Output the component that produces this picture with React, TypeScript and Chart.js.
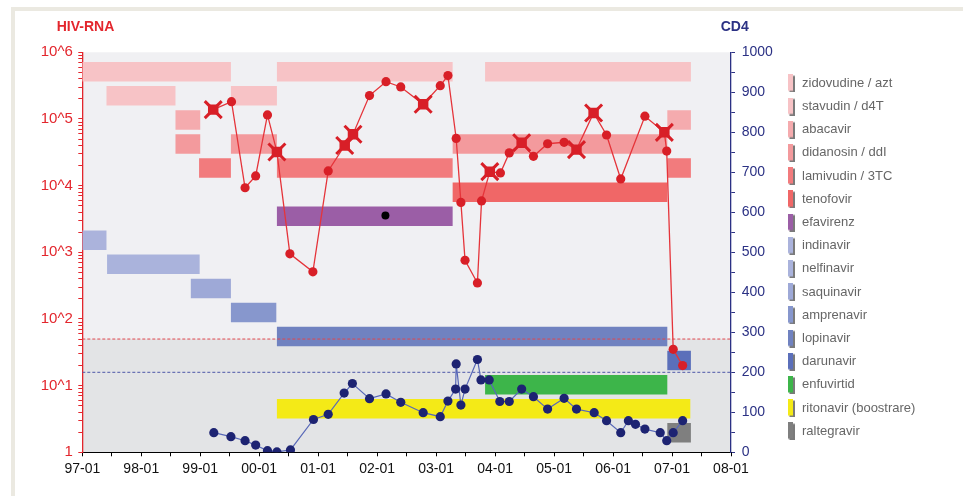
import React, { useEffect, useRef } from 'react';
import { Chart, registerables } from 'chart.js';

Chart.register(...registerables);

// ---------- data ----------
const rnaDates = [1999.22, 1999.53, 1999.76, 1999.94, 2000.14, 2000.30, 2000.52, 2000.91, 2001.17, 2001.45, 2001.59, 2001.87, 2002.15, 2002.40, 2002.78, 2003.07, 2003.20, 2003.34, 2003.42, 2003.49, 2003.70, 2003.77, 2003.91, 2004.09, 2004.24, 2004.45, 2004.65, 2004.89, 2005.17, 2005.38, 2005.67, 2005.89, 2006.13, 2006.54, 2006.87, 2006.91, 2007.02, 2007.18];
const rnaValues = [138000, 182000, 9300, 14000, 115000, 32000, 950, 510, 16600, 40000, 59000, 224000, 363000, 302000, 166000, 316000, 447000, 51000, 5600, 760, 347, 5900, 16200, 15500, 31000, 44000, 27500, 42500, 44700, 34700, 123000, 57500, 12600, 110000, 63000, 33000, 35, 20];
const rnaMarkers = ['x', 'o', 'o', 'o', 'o', 'x', 'o', 'o', 'o', 'x', 'x', 'o', 'o', 'o', 'x', 'o', 'o', 'o', 'o', 'o', 'o', 'o', 'x', 'o', 'o', 'x', 'o', 'o', 'o', 'x', 'x', 'o', 'o', 'o', 'x', 'o', 'o', 'o'];

const cd4Dates = [1999.23, 1999.52, 1999.76, 1999.94, 2000.14, 2000.30, 2000.53, 2000.92, 2001.17, 2001.44, 2001.58, 2001.87, 2002.15, 2002.40, 2002.78, 2003.07, 2003.20, 2003.33, 2003.34, 2003.42, 2003.49, 2003.70, 2003.76, 2003.90, 2004.08, 2004.24, 2004.45, 2004.65, 2004.89, 2005.17, 2005.38, 2005.68, 2005.89, 2006.13, 2006.26, 2006.38, 2006.54, 2006.80, 2006.91, 2007.02, 2007.18];
const cd4Values = [49, 39, 29, 18, 4, 1, 6, 82, 95, 148, 172, 134, 146, 125, 99, 89, 128, 158, 221, 118, 158, 232, 181, 181, 127, 127, 158, 139, 108, 135, 108, 99, 79, 49, 79, 70, 58, 49, 29, 49, 79];

const extraDates = [2002.14];
const extraValues = [3550];

const drugNames = ['zidovudine / azt', 'stavudin / d4T', 'abacavir', 'didanosin / ddI', 'lamivudin / 3TC', 'tenofovir', 'efavirenz', 'indinavir', 'nelfinavir', 'saquinavir', 'amprenavir', 'lopinavir', 'darunavir', 'enfuvirtid', 'ritonavir (boostrare)', 'raltegravir'];
const drugColors = ['#f7c3c6', '#f7c3c6', '#f5abae', '#f39a9d', '#f27b7d', '#f06767', '#9b5ea6', '#abb3dc', '#aab3dc', '#9ea9d7', '#8797cd', '#7082c0', '#5b6fba', '#3db54a', '#f4ea17', '#7f7f7f'];
const drugPeriods: number[][][] = [
  [[1997.0, 1999.52], [2000.30, 2003.28], [2003.83, 2007.32]],
  [[1997.41, 1998.58], [1999.52, 2000.30]],
  [[1998.58, 1999.0], [2006.92, 2007.32]],
  [[1998.58, 1999.0], [1999.52, 2000.30], [2003.28, 2006.92]],
  [[1998.98, 1999.52], [2000.30, 2003.28], [2006.92, 2007.32]],
  [[2003.28, 2006.92]],
  [[2000.30, 2003.28]],
  [[1997.0, 1997.41]],
  [[1997.42, 1998.99]],
  [[1998.84, 1999.52]],
  [[1999.52, 2000.29]],
  [[2000.30, 2006.92]],
  [[2006.92, 2007.32]],
  [[2003.83, 2006.92]],
  [[2000.30, 2007.31]],
  [[2006.92, 2007.32]],
];

const rnaTickValues = [1, 10, 100, 1000, 10000, 100000, 1000000];
const rnaTickLabels = ['1', '10^1', '10^2', '10^3', '10^4', '10^5', '10^6'];
const rnaLimit = 50;
const cd4Limit = 200;

// ---------- helpers ----------
const RED = '#e3262d';
const NAVY = '#2b3184';
const FONT = "'Liberation Sans', Arial, sans-serif";
const MARK_RED = '#d81f27';

function makeIcon(color: string) {
  const c = document.createElement('canvas');
  c.width = 7;
  c.height = 18;
  const g = c.getContext('2d')!;
  g.fillStyle = '#7a7a7a';
  g.fillRect(1.5, 1.5, 5.5, 16.5);
  g.fillStyle = color;
  g.fillRect(0, 0, 5, 16.5);
  return c;
}

const bgPlugin = {
  id: 'bgPlugin',
  beforeDraw(chart: any) {
    const { ctx, chartArea } = chart;
    const ys = chart.scales.yRna;
    const yl = ys.getPixelForValue(rnaLimit);
    ctx.save();
    ctx.fillStyle = '#f0f0f3';
    ctx.fillRect(chartArea.left, chartArea.top, chartArea.right - chartArea.left, chartArea.bottom - chartArea.top);
    ctx.fillStyle = '#e3e4e6';
    ctx.fillRect(chartArea.left, yl, chartArea.right - chartArea.left, chartArea.bottom - yl);
    ctx.restore();
  },
  afterDraw(chart: any) {
    const { ctx, chartArea } = chart;
    ctx.save();
    ctx.font = `bold 14px ${FONT}`;
    ctx.textBaseline = 'middle';
    ctx.textAlign = 'left';
    ctx.fillStyle = RED;
    ctx.fillText('HIV-RNA', chartArea.left - 25.6, 27.5);
    ctx.fillStyle = NAVY;
    ctx.fillText('CD4', chartArea.right - 10.3, 27.5);
    ctx.restore();
  },
  afterLayout(chart: any) {
    const lg = chart.legend;
    if (lg) {
      const w = lg.width;
      lg.left = 777.3;
      lg.right = 777.3 + w;
    }
  },
};

export default function App() {
  const ref = useRef<HTMLCanvasElement | null>(null);

  useEffect(() => {
    if (!ref.current) return;
    const icons = drugColors.map(makeIcon);

    const barSets = drugPeriods.map((periods, i) => {
      const data: any[] = [];
      periods.forEach((p, k) => {
        if (k > 0) data.push({ x: (periods[k - 1][1] + p[0]) / 2, y: null });
        data.push({ x: p[0], y: i });
        data.push({ x: p[1], y: i });
      });
      return {
        label: drugNames[i],
        data,
        xAxisID: 'x',
        yAxisID: 'yRows',
        borderColor: drugColors[i],
        backgroundColor: drugColors[i],
        borderWidth: 19.5,
        borderCapStyle: 'butt' as const,
        pointRadius: 0,
        pointHoverRadius: 0,
        spanGaps: false,
        order: 5,
      };
    });

    const limitSets = [
      {
        label: 'rnaLimit',
        data: [{ x: 1997, y: rnaLimit }, { x: 2008, y: rnaLimit }],
        yAxisID: 'yRna',
        borderColor: '#e0474d',
        borderWidth: 1,
        borderDash: [3, 2],
        pointRadius: 0,
        order: 3,
      },
      {
        label: 'cd4Limit',
        data: [{ x: 1997, y: cd4Limit }, { x: 2008, y: cd4Limit }],
        yAxisID: 'yCd4',
        borderColor: '#4d57a8',
        borderWidth: 1,
        borderDash: [3, 2],
        pointRadius: 0,
        order: 3,
      },
    ];

    const cd4Set = {
      label: 'CD4',
      data: cd4Dates.map((d, i) => ({ x: d, y: cd4Values[i] })),
      yAxisID: 'yCd4',
      borderColor: '#5868b8',
      borderWidth: 1.2,
      pointRadius: 4.6,
      pointBackgroundColor: '#1d2372',
      pointBorderWidth: 0,
      order: 2,
    };

    const rnaSet = {
      label: 'HIV-RNA',
      data: rnaDates.map((d, i) => ({ x: d, y: rnaValues[i] })),
      yAxisID: 'yRna',
      borderColor: '#e5343a',
      borderWidth: 1.3,
      pointRadius: rnaMarkers.map((m) => (m === 'x' ? 0 : 4.6)),
      pointBackgroundColor: MARK_RED,
      pointBorderWidth: 0,
      order: 0,
    };

    const starPts = rnaDates
      .map((d, i) => ({ x: d, y: rnaValues[i], m: rnaMarkers[i] }))
      .filter((p) => p.m === 'x')
      .map((p) => ({ x: p.x, y: p.y }));

    const starCross = {
      label: 'starCross',
      data: starPts,
      yAxisID: 'yRna',
      showLine: false,
      pointStyle: 'crossRot',
      pointRadius: 12,
      pointBorderColor: MARK_RED,
      pointBorderWidth: 3,
      order: 0,
    };
    const starCore = {
      label: 'starCore',
      data: starPts,
      yAxisID: 'yRna',
      showLine: false,
      pointStyle: 'rect',
      pointRadius: 7.4,
      pointBackgroundColor: MARK_RED,
      pointBorderWidth: 0,
      order: 0,
    };

    const extraSet = {
      label: 'extra',
      data: extraDates.map((d, i) => ({ x: d, y: extraValues[i] })),
      yAxisID: 'yRna',
      showLine: false,
      pointRadius: 4,
      pointBackgroundColor: '#000',
      pointBorderWidth: 0,
      order: 1,
    };

    const rnaMinor: number[] = [];
    for (let e = 0; e < 6; e++) for (let m = 1; m < 10; m++) rnaMinor.push(m * Math.pow(10, e));
    rnaMinor.push(1000000);

    const chart = new Chart(ref.current, {
      type: 'line',
      data: { datasets: [...barSets, ...limitSets, cd4Set, starCore, starCross, rnaSet, extraSet] as any },
      plugins: [bgPlugin],
      options: {
        animation: false,
        responsive: false,
        events: [],
        layout: { padding: { left: 0, right: 0, top: 52.3, bottom: 0 } },
        plugins: {
          tooltip: { enabled: false },
          legend: {
            position: 'right',
            align: 'start',
            onClick: () => {},
            title: { display: true, text: '', padding: { top: 2.3, bottom: 0 }, font: { size: 10 } },
            labels: {
              usePointStyle: true,
              pointStyleWidth: 8,
              padding: 10.2,
              color: '#222',
              font: { size: 13, family: FONT },
              generateLabels: () =>
                drugNames.map((name, i) => ({
                  text: name,
                  pointStyle: icons[i] as any,
                  fillStyle: drugColors[i],
                  strokeStyle: 'rgba(0,0,0,0)',
                  lineWidth: 0,
                  hidden: false,
                  datasetIndex: i,
                })),
            },
          },
        },
        scales: {
          x: {
            type: 'linear',
            axis: 'x',
            min: 1997,
            max: 2008,
            afterFit: (s: any) => { s.height = 496 - 52.3 - 400; },
            ticks: {
              stepSize: 0.5,
              autoSkip: false,
              maxRotation: 0,
              padding: 4,
              color: '#111',
              font: { size: 14, family: "'Liberation Sans Narrow', " + FONT },
              callback: (v: any) => (Number.isInteger(v) ? `${String(v % 100).padStart(2, '0')}-01` : ''),
            },
            grid: { drawOnChartArea: false, drawTicks: true, tickLength: 4, color: '#000' },
            border: { color: '#000', width: 1 },
          },
          yRna: {
            type: 'logarithmic',
            axis: 'y',
            position: 'left',
            min: 1,
            max: 1000000,
            afterBuildTicks: (s: any) => { s.ticks = rnaMinor.map((v) => ({ value: v, major: rnaTickValues.includes(v) })); },
            afterFit: (s: any) => { s.width = 82.3; },
            ticks: {
              autoSkip: false,
              padding: 5.5,
              color: RED,
              font: { size: 15, family: FONT },
              callback: (v: any) => {
                const i = rnaTickValues.findIndex((t) => Math.abs(t - v) < 1e-6 * t);
                return i >= 0 ? rnaTickLabels[i] : '';
              },
            },
            grid: { drawOnChartArea: false, drawTicks: true, tickLength: 4, color: RED },
            border: { color: RED, width: 1.3 },
          },
          yCd4: {
            type: 'linear',
            axis: 'y',
            position: 'right',
            min: 0,
            max: 1000,
            afterFit: (s: any) => {
              const lw = s.chart.legend ? s.chart.legend.width : 150;
              s.width = 963 - lw - 731;
            },
            ticks: {
              stepSize: 50,
              autoSkip: false,
              padding: 6.7,
              color: NAVY,
              font: { size: 14, family: FONT },
              callback: (v: any) => (v % 100 === 0 ? String(v) : ''),
            },
            grid: { drawOnChartArea: false, drawTicks: true, tickLength: 4, color: NAVY },
            border: { color: NAVY, width: 1.3 },
          },
          yRows: {
            type: 'linear',
            axis: 'y',
            position: 'left',
            display: false,
            reverse: true,
            min: -0.81,
            max: 15.81,
          },
        },
      } as any,
    });
    return () => chart.destroy();
  }, []);

  return (
    <div style={{ position: 'absolute', left: 0, top: 0, width: 963, height: 496, overflow: 'hidden', background: '#fff' }}>
      <div style={{ position: 'absolute', left: 11, top: 7, width: 1200, height: 800, borderLeft: '4px solid #ebe9e1', borderTop: '4px solid #ebe9e1', background: '#fff' }} />
      <canvas ref={ref} width={963} height={496} style={{ position: 'absolute', left: 0, top: 0, width: 963, height: 496 }} />
    </div>
  );
}
